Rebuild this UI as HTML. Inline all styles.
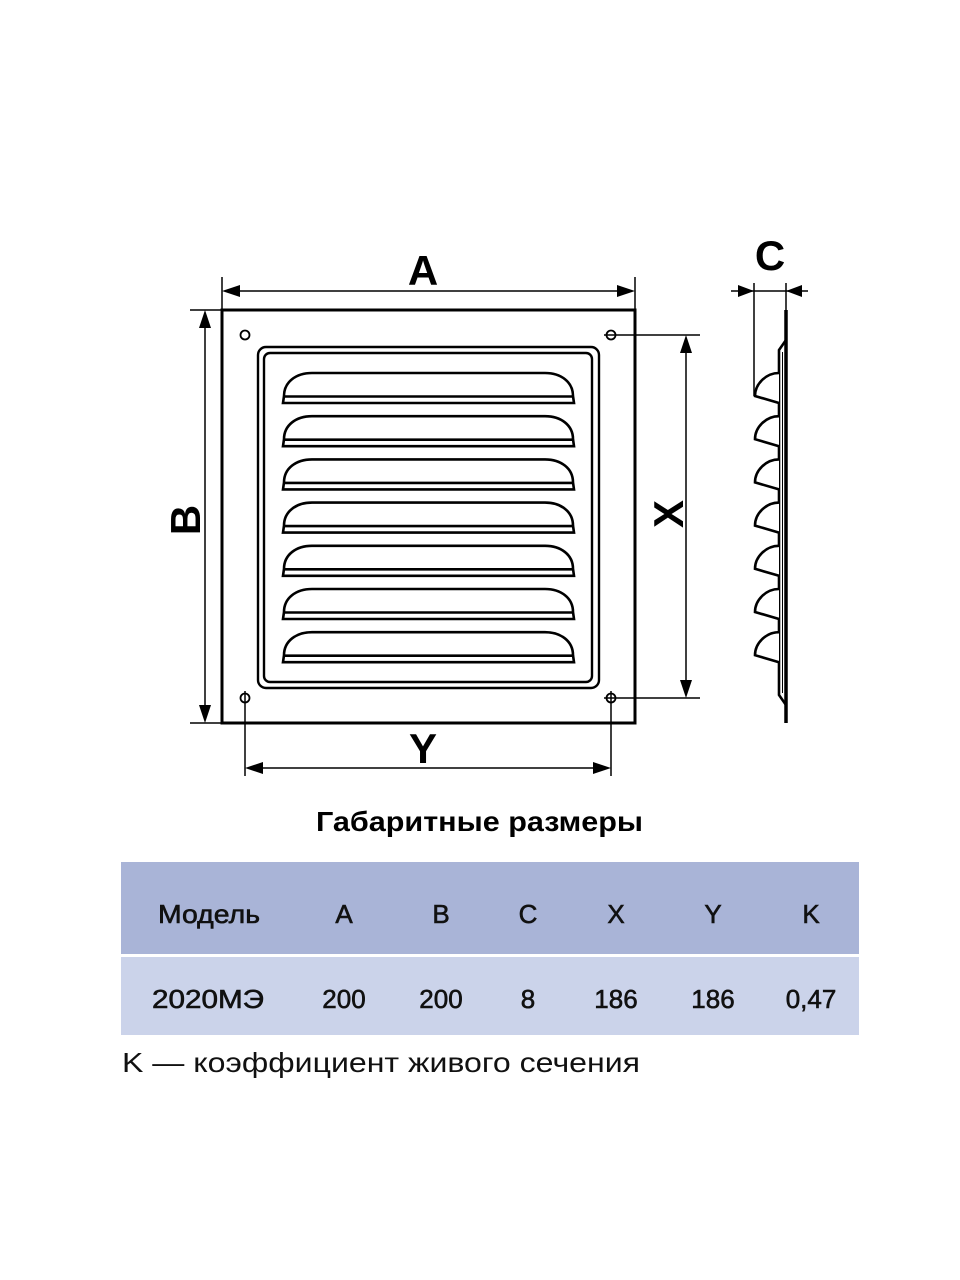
<!DOCTYPE html>
<html><head><meta charset="utf-8"><style>
html,body{margin:0;padding:0;background:#fff;}
svg{display:block;}
</style></head><body>
<svg width="960" height="1280" viewBox="0 0 960 1280" xmlns="http://www.w3.org/2000/svg">
<defs>
<g id="lv" fill="none" stroke="#000" stroke-width="2.6">
<path d="M284,23 C284,9 296,0 312,0 L545,0 C561,0 573,9 573,23 L574,30 L283,30 Z"/>
<line x1="284" y1="23.5" x2="573" y2="23.5"/>
</g>
<g id="sl" fill="#fff" stroke="#000" stroke-width="2.6">
<path d="M779,0 C766,0 755,11 755,23 L779,30"/>
</g>
</defs>

<g stroke="#000" stroke-width="1.5" fill="none">
<line x1="222" y1="277" x2="222" y2="310"/>
<line x1="635" y1="277" x2="635" y2="310"/>
<line x1="230" y1="291" x2="627" y2="291"/>
<path d="M222,291 L240,285 L240,297 Z M635,291 L617,285 L617,297 Z" fill="#000" stroke="none"/>
<line x1="190" y1="310" x2="222" y2="310"/>
<line x1="190" y1="723" x2="222" y2="723"/>
<line x1="205" y1="318" x2="205" y2="715"/>
<path d="M205,310 L199,328 L211,328 Z M205,723 L199,705 L211,705 Z" fill="#000" stroke="none"/>
<line x1="604" y1="335" x2="700" y2="335"/>
<line x1="604" y1="698" x2="700" y2="698"/>
<line x1="686" y1="343" x2="686" y2="690"/>
<path d="M686,335 L680,353 L692,353 Z M686,698 L680,680 L692,680 Z" fill="#000" stroke="none"/>
<line x1="245" y1="691" x2="245" y2="776"/>
<line x1="611" y1="691" x2="611" y2="776"/>
<line x1="253" y1="768" x2="603" y2="768"/>
<path d="M245,768 L263,762 L263,774 Z M611,768 L593,762 L593,774 Z" fill="#000" stroke="none"/>
<line x1="754" y1="283" x2="754" y2="396"/>
<line x1="786" y1="283" x2="786" y2="310"/>
<line x1="731" y1="291" x2="808" y2="291"/>
<path d="M754,291 L738,285 L738,297 Z M786,291 L802,285 L802,297 Z" fill="#000" stroke="none"/>
</g>

<rect x="222" y="310" width="413" height="413" fill="none" stroke="#000" stroke-width="3"/>
<g fill="none" stroke="#000" stroke-width="1.8">
<circle cx="245" cy="335" r="4.5"/><circle cx="611" cy="335" r="4.5"/>
<circle cx="245" cy="698" r="4.5"/><circle cx="611" cy="698" r="4.5"/>
</g>
<rect x="258" y="347" width="341" height="341" rx="8" fill="none" stroke="#000" stroke-width="2.4"/>
<rect x="264" y="353" width="328" height="329" rx="6" fill="none" stroke="#000" stroke-width="2.4"/>
<use href="#lv" y="373"/>
<use href="#lv" y="416.2"/>
<use href="#lv" y="459.4"/>
<use href="#lv" y="502.6"/>
<use href="#lv" y="545.8"/>
<use href="#lv" y="589"/>
<use href="#lv" y="632.2"/>

<path d="M786,310 L786,723" stroke="#000" stroke-width="3.5" fill="none"/>
<path d="M786,340 L779,350 L779,695 L786,705" stroke="#000" stroke-width="2.6" fill="none"/>
<line x1="782.5" y1="352" x2="782.5" y2="693" stroke="#000" stroke-width="1"/>
<use href="#sl" y="373"/>
<use href="#sl" y="416.2"/>
<use href="#sl" y="459.4"/>
<use href="#sl" y="502.6"/>
<use href="#sl" y="545.8"/>
<use href="#sl" y="589"/>
<use href="#sl" y="632.2"/>

<g font-family="Liberation Sans, sans-serif" font-weight="bold" font-size="42" text-anchor="middle" fill="#000">
<text x="423" y="285">A</text>
<text x="770" y="270">C</text>
<text x="423" y="763">Y</text>
<text transform="translate(200,520) rotate(-90)">B</text>
<text transform="translate(683,514) rotate(-90)">X</text>
</g>

<text x="316" y="831" textLength="327" lengthAdjust="spacingAndGlyphs" font-family="Liberation Sans, 'Noto Sans CJK SC', sans-serif" font-weight="bold" font-size="28">Габаритные размеры</text>

<rect x="121" y="862" width="738" height="92" fill="#a9b4d7"/>
<rect x="121" y="957" width="738" height="78" fill="#cbd3ea"/>
<g font-family="Liberation Sans, 'Noto Sans CJK SC', sans-serif" font-size="26" fill="#111" stroke="#111" stroke-width="0.6">
<text x="158" y="923" textLength="102" lengthAdjust="spacingAndGlyphs">Модель</text>
<text x="152" y="1008" textLength="112" lengthAdjust="spacingAndGlyphs">2020МЭ</text>
</g>
<g font-family="Liberation Sans, 'Noto Sans CJK SC', sans-serif" font-size="26" text-anchor="middle" fill="#111" stroke="#111" stroke-width="0.6">
<text x="344" y="923">A</text>
<text x="441" y="923">B</text>
<text x="528" y="923">C</text>
<text x="616" y="923">X</text>
<text x="713" y="923">Y</text>
<text x="811" y="923">K</text>
<text x="344" y="1008">200</text>
<text x="441" y="1008">200</text>
<text x="528" y="1008">8</text>
<text x="616" y="1008">186</text>
<text x="713" y="1008">186</text>
<text x="811" y="1008">0,47</text>
</g>
<text x="122" y="1072" textLength="518" lengthAdjust="spacingAndGlyphs" font-family="Liberation Sans, 'Noto Sans CJK SC', sans-serif" font-size="28" fill="#111">K — коэффициент живого сечения</text>
</svg>
</body></html>
